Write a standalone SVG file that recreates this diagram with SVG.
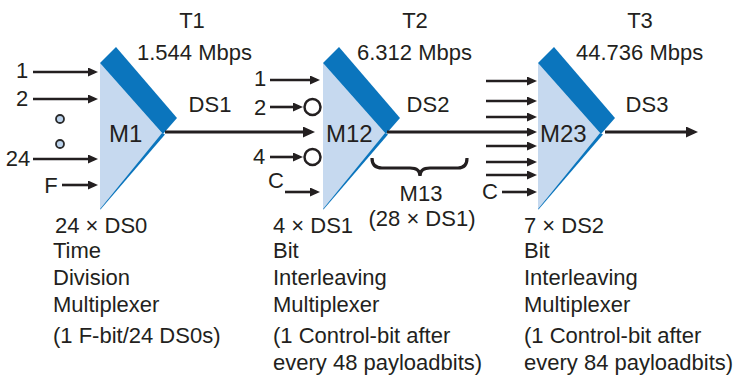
<svg xmlns="http://www.w3.org/2000/svg" width="739" height="376" viewBox="0 0 739 376">
<style>
text{font-family:"Liberation Sans",Arial,Helvetica,sans-serif;font-size:22px;fill:#231f20}
.m{font-size:24px}
.c{text-anchor:middle}
.ln{stroke:#231f20;stroke-width:2.6;fill:none}
.dark{fill:#0b75bd}
.light{fill:#c6d9ef}
.dot{fill:#bcd3ec;stroke:#2a2a2a;stroke-width:1.8}
.ring{fill:#ffffff;stroke:#231f20;stroke-width:2.5}
</style>
<defs>
<marker id="a" viewBox="0 0 10 9" refX="6" refY="4.5" markerWidth="10" markerHeight="9" markerUnits="userSpaceOnUse" orient="auto"><path d="M0,0L10,4.5L0,9z" fill="#231f20"/></marker>
<marker id="b" viewBox="0 0 12 11" refX="8" refY="5.5" markerWidth="12" markerHeight="11" markerUnits="userSpaceOnUse" orient="auto"><path d="M0,0L12,5.5L0,11z" fill="#231f20"/></marker>
</defs>
<rect width="739" height="376" fill="#ffffff"/>

<g id="M1">
<polygon class="light" points="100,63 162,133 100,209"/>
<polygon class="dark" points="100,63 116,47 177,118 163,134"/>
<polygon class="dark" points="162,133 165,134.5 100.5,209.5 100,209"/>
<text class="m" x="109" y="142">M1</text>
</g>
<g id="M12">
<polygon class="light" points="323,63 385,133 323,209"/>
<polygon class="dark" points="323,63 339,47 400,118 386,134"/>
<polygon class="dark" points="385,133 388,134.5 323.5,209.5 323,209"/>
<text class="m" x="326" y="142">M12</text>
</g>
<g id="M23">
<polygon class="light" points="538,63 600,133 538,209"/>
<polygon class="dark" points="538,63 554,47 615,118 601,134"/>
<polygon class="dark" points="600,133 603,134.5 538.5,209.5 538,209"/>
<text class="m" x="540" y="142">M23</text>
</g>

<g id="connectors">
<line class="ln" x1="33" y1="72" x2="94" y2="72" marker-end="url(#a)"/>
<line class="ln" x1="33" y1="99" x2="94" y2="99" marker-end="url(#a)"/>
<line class="ln" x1="33" y1="159" x2="94" y2="159" marker-end="url(#a)"/>
<line class="ln" x1="62" y1="185" x2="94" y2="185" marker-end="url(#a)"/>
<line class="ln" x1="165" y1="132" x2="311" y2="132" marker-end="url(#b)" style="stroke-width:2.8"/>
<line class="ln" x1="270" y1="80" x2="316" y2="80" marker-end="url(#a)"/>
<line class="ln" x1="270" y1="107" x2="299" y2="107" marker-end="url(#a)"/>
<line class="ln" x1="270" y1="157" x2="299" y2="157" marker-end="url(#a)"/>
<line class="ln" x1="285" y1="192" x2="316" y2="192" marker-end="url(#a)"/>
<line class="ln" x1="387" y1="132" x2="533" y2="132" marker-end="url(#a)" style="stroke-width:2.8"/>
<line class="ln" x1="486" y1="81" x2="533" y2="81" marker-end="url(#a)"/>
<line class="ln" x1="486" y1="101" x2="533" y2="101" marker-end="url(#a)"/>
<line class="ln" x1="486" y1="117" x2="533" y2="117" marker-end="url(#a)"/>
<line class="ln" x1="486" y1="146" x2="533" y2="146" marker-end="url(#a)"/>
<line class="ln" x1="486" y1="162" x2="533" y2="162" marker-end="url(#a)"/>
<line class="ln" x1="486" y1="175" x2="533" y2="175" marker-end="url(#a)"/>
<line class="ln" x1="502" y1="192" x2="533" y2="192" marker-end="url(#a)"/>
<line class="ln" x1="605" y1="132" x2="694" y2="132" marker-end="url(#b)" style="stroke-width:2.8"/>
</g>

<g id="inputs">
<circle class="dot" cx="60" cy="119" r="4"/>
<circle class="dot" cx="60" cy="144" r="4"/>
<circle class="ring" cx="312.5" cy="107" r="8"/>
<circle class="ring" cx="312.5" cy="157" r="8"/>
<text class="c" x="22" y="78">1</text>
<text class="c" x="22" y="106">2</text>
<text class="c" x="18" y="166">24</text>
<text class="c" x="51" y="193">F</text>
<text class="c" x="260" y="86">1</text>
<text class="c" x="260" y="115">2</text>
<text class="c" x="259" y="164">4</text>
<text class="c" x="276" y="188">C</text>
<text class="c" x="490" y="199">C</text>
</g>

<g id="brace">
<path class="ln" style="stroke-width:3.2" d="M372,158 Q372,168 382,168 L410,168 Q420,168 420,176 Q420,168 430,168 L458,168 Q467,168 467,158"/>
<text class="c" x="421" y="201">M13</text>
<text class="c" x="422" y="226">(28 × DS1)</text>
</g>

<g id="top-labels">
<text class="c" x="192" y="28">T1</text>
<text x="137" y="60">1.544 Mbps</text>
<text class="c" x="210" y="112">DS1</text>
<text class="c" x="415" y="28">T2</text>
<text x="357" y="60">6.312 Mbps</text>
<text class="c" x="428" y="112">DS2</text>
<text class="c" x="640" y="28">T3</text>
<text x="576" y="60">44.736 Mbps</text>
<text class="c" x="647" y="112">DS3</text>
</g>

<g id="desc1">
<text x="55" y="233">24 × DS0</text>
<text x="53" y="258">Time</text>
<text x="53" y="285">Division</text>
<text x="53" y="312">Multiplexer</text>
<text x="53" y="343">(1 F-bit/24 DS0s)</text>
</g>
<g id="desc2">
<text x="273" y="233">4 × DS1</text>
<text x="273" y="258">Bit</text>
<text x="273" y="285">Interleaving</text>
<text x="273" y="312">Multiplexer</text>
<text x="273" y="343">(1 Control-bit after</text>
<text x="273" y="370">every 48 payloadbits)</text>
</g>
<g id="desc3">
<text x="524" y="233">7 × DS2</text>
<text x="524" y="258">Bit</text>
<text x="524" y="285">Interleaving</text>
<text x="524" y="312">Multiplexer</text>
<text x="524" y="343">(1 Control-bit after</text>
<text x="524" y="370">every 84 payloadbits)</text>
</g>
</svg>
